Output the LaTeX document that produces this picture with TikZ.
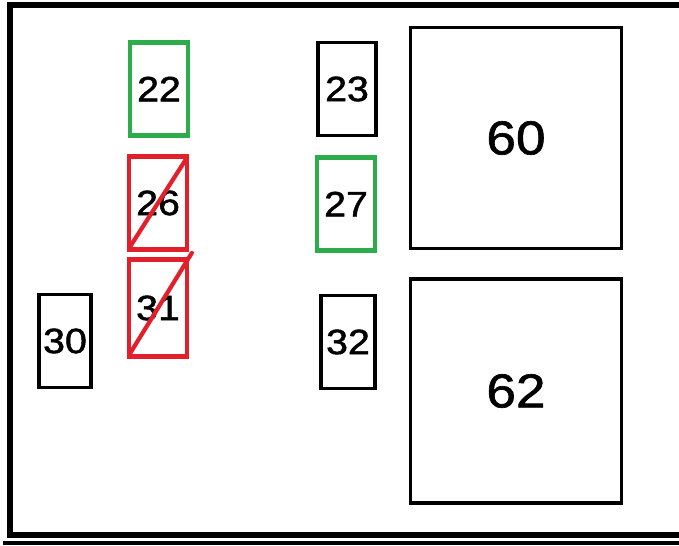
\documentclass[tikz,border=0pt]{standalone}
\usepackage{fontspec}
\setmainfont{Liberation Sans}
\newfontfamily\fusefont[FakeStretch=1.12,FakeBold=1.4]{Liberation Sans}
\usetikzlibrary{positioning}
\definecolor{fgreen}{RGB}{44,172,74}
\definecolor{fred}{RGB}{226,32,44}

\begin{document}
\begin{tikzpicture}[x=0.02cm, y=-0.02cm,
    fuse/.style={draw, line width=1.9pt, inner sep=0pt, minimum width=1.16cm, minimum height=1.86cm,
      font=\fusefont\fontsize{20}{20}\selectfont},
    relay/.style={draw, line width=1.9pt, inner sep=0pt, minimum width=4.22cm,
      font=\fusefont\fontsize{27}{27}\selectfont},
    goodfuse/.style={fuse, draw=fgreen, line width=2.8pt},
    badfuse/.style={fuse, draw=fred, line width=2.4pt},
    cross/.style={fred, line width=2.4pt, line cap=round}]
    \useasboundingbox (0,0) rectangle (679,546);
    % frame
    \draw[line width=3pt] (679,5) -- (10,5) -- (10,535) -- (679,535);
    \draw[line width=2.6pt] (3,543) -- (679,543);
    % fuses
    \node[goodfuse] (f22) at (159,89) {22};
    \node[fuse] (f23) at (347,89) {23};
    \node[badfuse] (f26) at (158,203) {26};
    \node[goodfuse] (f27) at (346,204) {27};
    \node[fuse, minimum width=1.04cm] (f30) at (65,341) {30};
    \node[badfuse, minimum height=1.94cm] (f31) at (158,308) {31};
    \node[fuse, minimum width=1.08cm] (f32) at (348,342) {32};
    % relays
    \node[relay, minimum height=4.42cm] (r60) at (516,138) {60};
    \node[relay, minimum height=4.48cm] (r62) at (516,391) {62};
    % removed fuses
    \draw[cross, shorten <=4pt, shorten >=2pt] (f26.south west) -- (f26.north east);
    \draw[cross, shorten <=3pt, shorten >=-3pt] (f31.south west) -- (f31.north east);
\end{tikzpicture}
\end{document}
